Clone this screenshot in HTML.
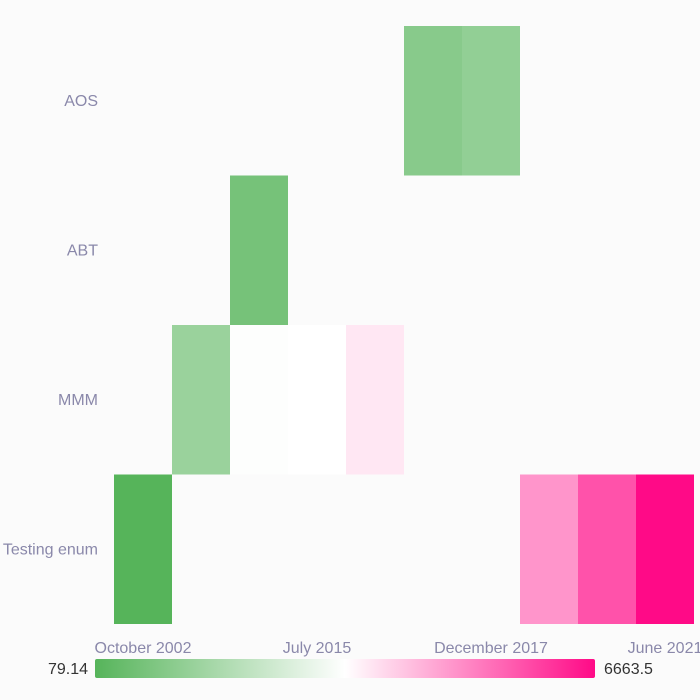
<!DOCTYPE html>
<html><head><meta charset="utf-8"><style>
html,body{margin:0;padding:0;background:#fbfbfb;}
svg{display:block;font-family:"Liberation Sans",sans-serif;}
</style></head><body>
<svg id="chart" width="700" height="700">
<defs><linearGradient id="grad" x1="0" x2="1" y1="0" y2="0">
<stop offset="0" stop-color="#56b45a"/><stop offset="0.5" stop-color="#ffffff"/><stop offset="1" stop-color="#ff0a87"/>
</linearGradient></defs>
<rect width="700" height="700" fill="#fbfbfb"/>
<g id="cells"></g><g id="ylabels"></g><g id="xlabels"></g>
<rect x="95" y="659" width="500" height="19" rx="2" fill="url(#grad)"/>
<text x="88" y="674" text-anchor="end" font-size="16" fill="#333">79.14</text>
<text x="604" y="674" font-size="16" fill="#333">6663.5</text>
</svg>
<script>
const rows=["AOS","ABT","MMM","Testing enum"];
const nCols=10;
const xTickLabels=["October 2002","July 2015","December 2017","June 2021"];
const xTickCols=[0,3,6,9];
const cellRows=[0,0,1,2,2,2,2,3,3,3,3];
const cellCols=[5,6,2,1,2,3,4,0,7,8,9];
const cellValues=[1050,1250,700,1400,3330,3371,3700,79.14,4800,5700,6663.5];
const vMin=79.14,vMax=6663.5;
const x0=114,colW=58,y0=26,rowH=149.5;
const xPos=c=>x0+c*colW, yPos=r=>y0+r*rowH;
function mix(a,b,t){return a.map((v,i)=>Math.round(v+(b[i]-v)*t));}
function color(v){const t=(v-vMin)/(vMax-vMin);
 const g=[86,180,90],w=[255,255,255],p=[255,10,135];
 const c=t<0.5?mix(g,w,t/0.5):mix(w,p,(t-0.5)/0.5);return `rgb(${c.join(",")})`;}
const NS="http://www.w3.org/2000/svg";
const cg=document.getElementById("cells");
cellValues.forEach((v,i)=>{const r=document.createElementNS(NS,"rect");
 r.setAttribute("x",xPos(cellCols[i]));r.setAttribute("y",yPos(cellRows[i]));
 r.setAttribute("width",colW);r.setAttribute("height",rowH);r.setAttribute("fill",color(v));
 
 
 cg.appendChild(r);});
const yg=document.getElementById("ylabels");
rows.forEach((n,i)=>{const t=document.createElementNS(NS,"text");
 t.setAttribute("x",98);t.setAttribute("y",yPos(i)+rowH/2+5);t.setAttribute("text-anchor","end");
 t.setAttribute("font-size","16");t.setAttribute("fill","#8a88aa");t.textContent=n;
 
 
 yg.appendChild(t);});
const xg=document.getElementById("xlabels");
xTickLabels.forEach((n,i)=>{const t=document.createElementNS(NS,"text");
 t.setAttribute("x",xPos(xTickCols[i])+colW/2);t.setAttribute("y",653);t.setAttribute("text-anchor","middle");
 t.setAttribute("font-size","16");t.setAttribute("fill","#8a88aa");t.textContent=n;
 
 
 xg.appendChild(t);});
</script>
</body></html>
